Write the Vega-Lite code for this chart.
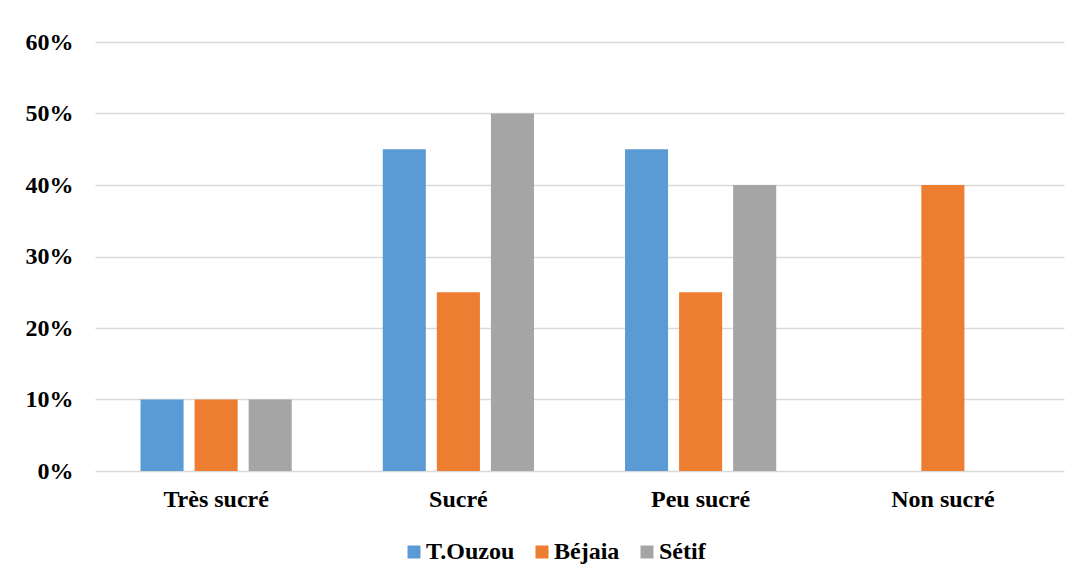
{
  "$schema": "https://vega.github.io/schema/vega-lite/v6.json",
  "width": 969,
  "height": 429,
  "autosize": {"type": "none"},
  "padding": {"left": 95, "top": 42, "right": 25, "bottom": 112},
  "background": "white",
  "data": {
    "values": [
      {"categorie": "Très sucré", "region": "T.Ouzou", "taux": 0.10},
      {"categorie": "Très sucré", "region": "Béjaia", "taux": 0.10},
      {"categorie": "Très sucré", "region": "Sétif", "taux": 0.10},
      {"categorie": "Sucré", "region": "T.Ouzou", "taux": 0.45},
      {"categorie": "Sucré", "region": "Béjaia", "taux": 0.25},
      {"categorie": "Sucré", "region": "Sétif", "taux": 0.50},
      {"categorie": "Peu sucré", "region": "T.Ouzou", "taux": 0.45},
      {"categorie": "Peu sucré", "region": "Béjaia", "taux": 0.25},
      {"categorie": "Peu sucré", "region": "Sétif", "taux": 0.40},
      {"categorie": "Non sucré", "region": "T.Ouzou", "taux": 0.0},
      {"categorie": "Non sucré", "region": "Béjaia", "taux": 0.40},
      {"categorie": "Non sucré", "region": "Sétif", "taux": 0.0}
    ]
  },
  "mark": {"type": "bar"},
  "encoding": {
    "x": {
      "field": "categorie",
      "type": "nominal",
      "sort": ["Très sucré", "Sucré", "Peu sucré", "Non sucré"],
      "scale": {"paddingInner": 0, "paddingOuter": 0},
      "axis": {
        "title": null,
        "labelAngle": 0,
        "ticks": false,
        "tickSize": 0,
        "domain": false,
        "labelPadding": 16,
        "labelFont": "Liberation Serif",
        "labelFontWeight": "bold",
        "labelFontSize": 24,
        "labelColor": "#000000"
      }
    },
    "xOffset": {
      "field": "region",
      "type": "nominal",
      "sort": ["T.Ouzou", "Béjaia", "Sétif"],
      "scale": {"paddingInner": 0.2037, "paddingOuter": 0.842}
    },
    "y": {
      "field": "taux",
      "type": "quantitative",
      "scale": {"domain": [0, 0.6], "nice": false},
      "axis": {
        "title": null,
        "values": [0, 0.1, 0.2, 0.3, 0.4, 0.5, 0.6],
        "format": ".0%",
        "ticks": false,
        "tickSize": 0,
        "domain": false,
        "labelPadding": 22,
        "labelFont": "Liberation Serif",
        "labelFontWeight": "bold",
        "labelFontSize": 24,
        "labelColor": "#000000",
        "grid": true,
        "gridColor": "#D9D9D9",
        "gridWidth": 1.5
      }
    },
    "color": {
      "field": "region",
      "type": "nominal",
      "sort": ["T.Ouzou", "Béjaia", "Sétif"],
      "scale": {
        "domain": ["T.Ouzou", "Béjaia", "Sétif"],
        "range": ["#5B9BD5", "#ED7D31", "#A5A5A5"]
      },
      "legend": {
        "title": null,
        "orient": "none",
        "direction": "horizontal",
        "legendX": 307,
        "legendY": 498,
        "symbolType": "square",
        "symbolSize": 169,
        "symbolStrokeWidth": 0,
        "labelOffset": 0,
        "columnPadding": 15,
        "labelFont": "Liberation Serif",
        "labelFontWeight": "bold",
        "labelFontSize": 24,
        "labelColor": "#000000"
      }
    }
  },
  "config": {
    "view": {"stroke": null}
  }
}
